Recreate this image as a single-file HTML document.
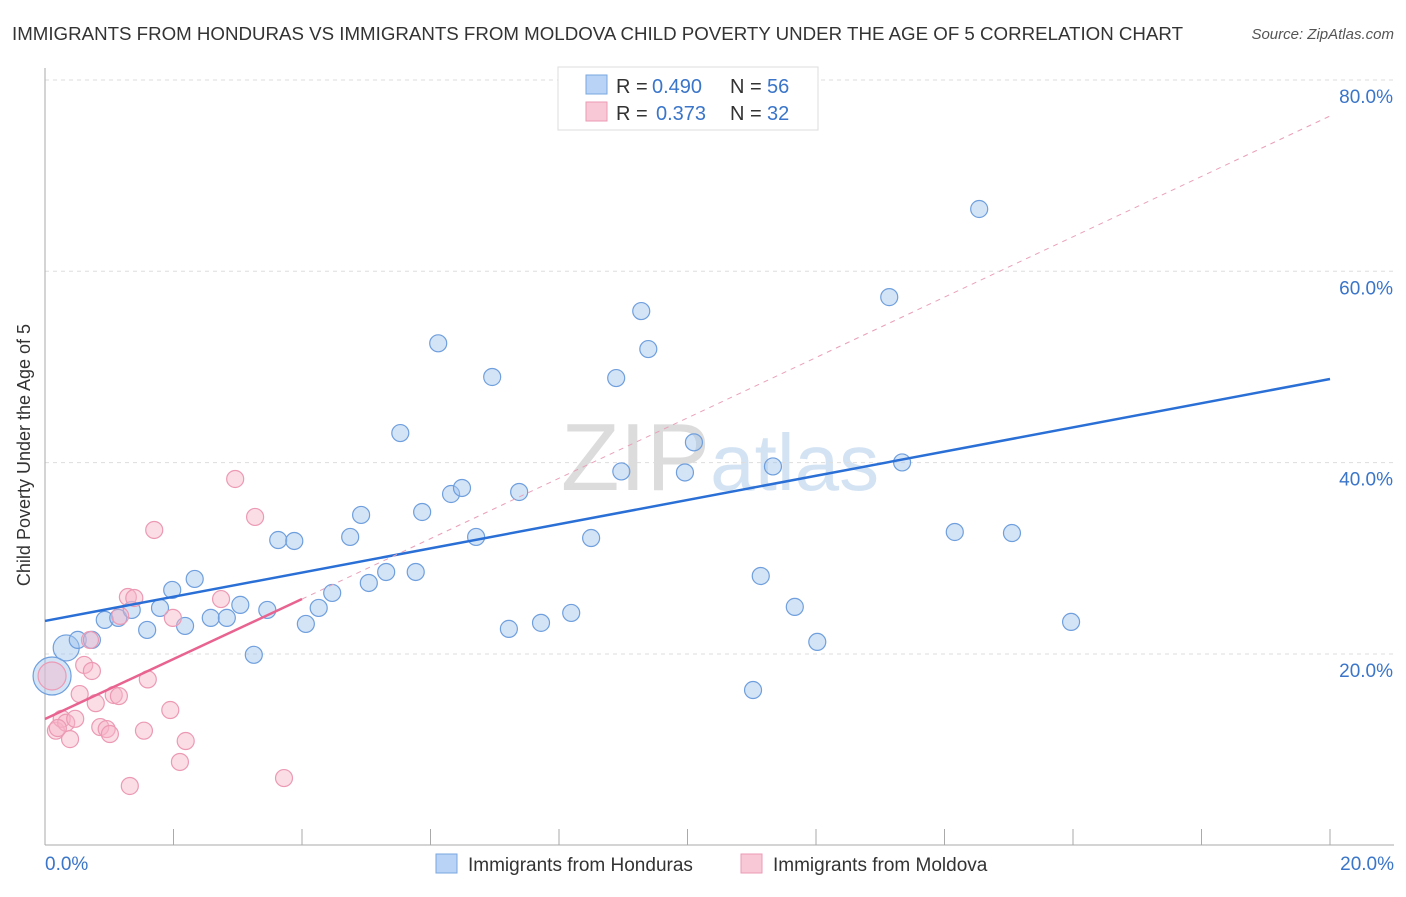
<!DOCTYPE html>
<html><head><meta charset="utf-8"><style>
body{margin:0;background:#fff;font-family:"Liberation Sans",sans-serif}
svg text{font-family:"Liberation Sans",sans-serif}
</style></head><body>
<svg id="c" width="1406" height="892">
<text x="12" y="40" font-size="18" fill="#333" textLength="1171" lengthAdjust="spacingAndGlyphs">IMMIGRANTS FROM HONDURAS VS IMMIGRANTS FROM MOLDOVA CHILD POVERTY UNDER THE AGE OF 5 CORRELATION CHART</text>
<text x="1394" y="39" font-size="15" fill="#555" font-style="italic" text-anchor="end">Source: ZipAtlas.com</text>
<text x="720" y="490" font-size="96" fill="#e4e4e4" text-anchor="middle" font-family="Liberation Serif"><tspan fill="#dcdcdc">ZIP</tspan><tspan fill="#d4e3f3" font-family="Liberation Sans" font-size="80">atlas</tspan></text>
<g id="grid"></g><g id="axes"></g><g id="pts"></g><g id="lines"></g>
<text x="30" y="455" font-size="18" fill="#333" text-anchor="middle" transform="rotate(-90 30 455)">Child Poverty Under the Age of 5</text>
<g>
<rect x="558" y="67" width="260" height="63" fill="#fff" stroke="#ddd"/>
<rect x="586" y="75" width="21" height="19" fill="#b8d3f5" stroke="#7aa7e0"/>
<rect x="586" y="102" width="21" height="19" fill="#f9c8d6" stroke="#eb9ab3"/>
<text y="93" font-size="20" fill="#333"><tspan x="616">R =</tspan><tspan x="652" fill="#3a75c9">0.490</tspan><tspan x="730">N =</tspan><tspan x="767" fill="#3a75c9">56</tspan></text>
<text y="120" font-size="20" fill="#333"><tspan x="616">R =</tspan><tspan x="656" fill="#3a75c9">0.373</tspan><tspan x="730">N =</tspan><tspan x="767" fill="#3a75c9">32</tspan></text>
</g>
<g>
<rect x="436" y="854" width="21" height="19" fill="#b8d3f5" stroke="#7aa7e0"/>
<text x="468" y="871" font-size="19" fill="#333">Immigrants from Honduras</text>
<rect x="741" y="854" width="21" height="19" fill="#f9c8d6" stroke="#eb9ab3"/>
<text x="773" y="871" font-size="19" fill="#333">Immigrants from Moldova</text>
</g>
</svg>
<script>
const blueX=[0.11,0.33,0.51,0.73,0.93,1.14,1.35,1.59,1.79,1.98,2.18,2.33,2.58,2.83,3.04,3.25,3.46,3.63,3.88,4.06,4.26,4.47,4.75,4.92,5.04,5.31,5.53,5.77,5.87,6.12,6.32,6.49,6.71,6.96,7.22,7.38,7.72,8.19,8.50,8.89,8.97,9.28,9.39,9.96,10.10,11.02,11.14,11.33,11.67,12.02,13.14,13.34,14.16,14.54,15.05,15.97];
const blueY=[17.70,20.63,21.47,21.47,23.56,23.77,24.60,22.51,24.81,26.69,22.93,27.84,23.77,23.77,25.13,19.91,24.60,31.91,31.81,23.14,24.81,26.38,32.23,34.53,27.42,28.57,43.09,28.57,34.84,52.47,36.72,37.35,32.23,48.95,22.62,36.93,23.25,24.29,32.12,48.84,39.08,55.84,51.87,38.97,42.12,16.23,28.15,39.60,24.92,21.26,57.30,40.02,32.75,66.51,32.64,23.35];
const pinkX=[0.11,0.17,0.26,0.33,0.39,0.47,0.54,0.61,0.73,0.79,0.86,0.96,1.01,1.07,1.15,1.29,1.32,1.39,1.54,1.60,1.70,1.95,1.99,2.10,2.19,2.74,2.96,3.27,3.72,0.70,1.17,0.20];
const pinkY=[17.70,11.98,13.22,12.81,11.10,13.22,15.81,18.85,18.22,14.86,12.36,12.15,11.63,15.71,15.60,25.95,6.20,25.85,11.98,17.34,32.96,14.14,23.77,8.71,10.90,25.74,38.29,34.32,7.03,21.46,23.98,12.26];
const blueTrend=[23.45,48.74];
const pinkTrend=[13.20,25.74,76.23];
const yTicks=[20,40,60,80];
const xTicks=[0,2,4,6,8,10,12,14,16,18,20];
const NS="http://www.w3.org/2000/svg";
const sx=v=>45+v*64.25, sy=v=>845.3-v*9.567;
function mk(tag,attrs,parent){const e=document.createElementNS(NS,tag);for(const k in attrs)e.setAttribute(k,attrs[k]);document.getElementById(parent).appendChild(e);return e;}
yTicks.forEach(t=>{
 const l=mk('line',{x1:45,x2:1394,y1:sy(t),y2:sy(t),stroke:'#ddd','stroke-dasharray':'4 4'},'grid');
 
 
 const tx=mk('text',{x:1393,y:sy(t)+23,'font-size':19,fill:'#3a75c9','text-anchor':'end'},'grid');tx.textContent=t.toFixed(1)+'%';
 
 
});
const ya=mk('line',{x1:45,x2:45,y1:68,y2:845,stroke:'#aaa'},'axes');


const xa=mk('line',{x1:45,x2:1394,y1:845,y2:845,stroke:'#aaa'},'axes');


xTicks.forEach(t=>{const l=mk('line',{x1:sx(t),x2:sx(t),y1:829,y2:845,stroke:'#aaa'},'axes');
 
 });
[[0,'start',45],[20,'end',1394]].forEach(([t,a,x])=>{const tx=mk('text',{x:x,y:870,'font-size':19,fill:'#3a75c9','text-anchor':a},'axes');tx.textContent=t.toFixed(1)+'%';
 
 });
blueX.forEach((v,i)=>{const r=i==0?19:(i==1?13:8.5);const c=mk('circle',{cx:sx(v),cy:sy(blueY[i]),r:r,fill:'rgba(160,195,238,0.45)',stroke:'#6f9fdd','stroke-width':1.2},'pts');
 
 });
pinkX.forEach((v,i)=>{const r=i==0?14:8.5;const c=mk('circle',{cx:sx(v),cy:sy(pinkY[i]),r:r,fill:'rgba(246,180,200,0.45)',stroke:'#ec9ab4','stroke-width':1.2},'pts');
 
 });
const bl=mk('line',{x1:sx(0),y1:sy(blueTrend[0]),x2:sx(20),y2:sy(blueTrend[1]),stroke:'#2a6fd6','stroke-width':2.5},'lines');


const pd=mk('line',{x1:sx(4),y1:sy(pinkTrend[1]),x2:sx(20),y2:sy(pinkTrend[2]),stroke:'#eaa0b8','stroke-width':1,'stroke-dasharray':'5 5'},'lines');


const pl=mk('line',{x1:sx(0),y1:sy(pinkTrend[0]),x2:sx(4),y2:sy(pinkTrend[1]),stroke:'#e8638f','stroke-width':2.5},'lines');


</script>
</body></html>
